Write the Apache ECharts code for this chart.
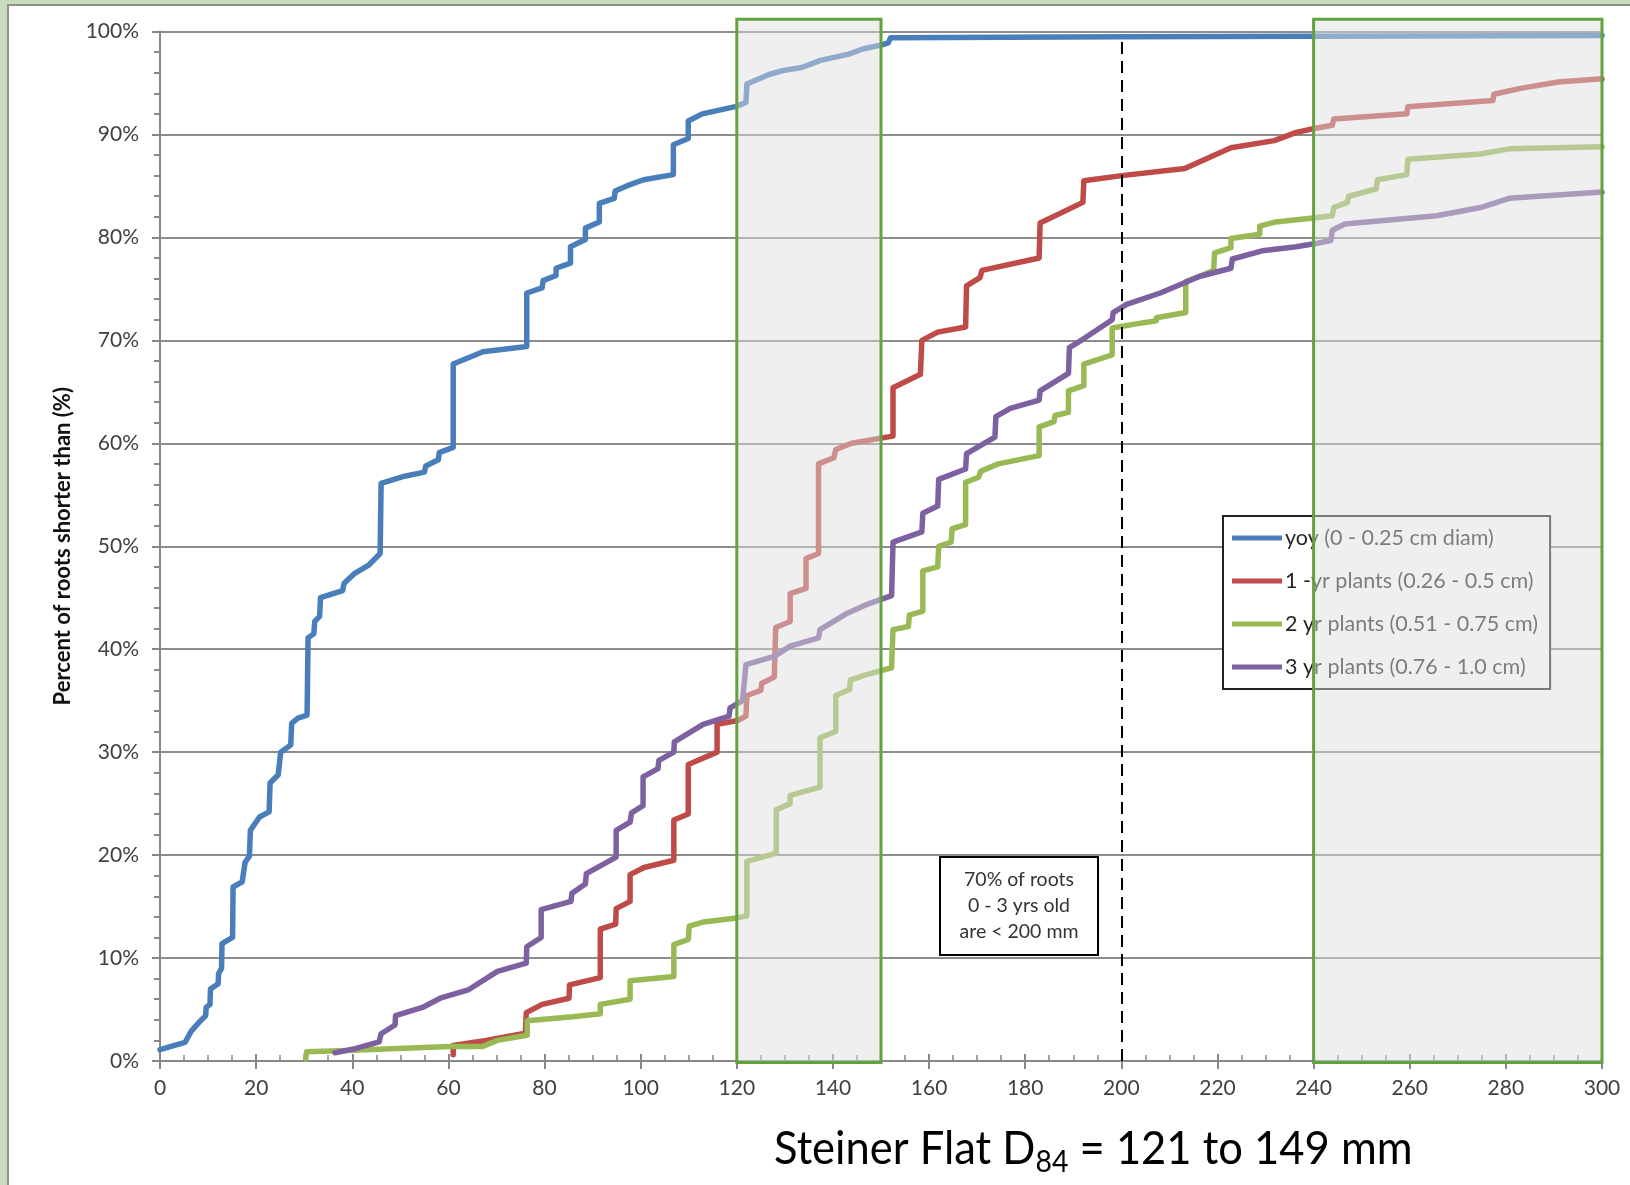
<!DOCTYPE html>
<html><head><meta charset="utf-8">
<script src="https://cdn.jsdelivr.net/npm/echarts@6.0.0/dist/echarts.min.js"></script>
<style>
html,body{margin:0;padding:0;width:1630px;height:1185px;overflow:hidden;background:#c6dcbc;}
#frame{position:absolute;left:7px;top:4px;right:0;bottom:0;background:#fff;border-left:2px solid #8f8f8f;border-top:2px solid #8f8f8f;}
#chart{position:absolute;left:0;top:0;width:1630px;height:1185px;}
</style></head><body><div id="frame"></div><div id="chart"></div>
<script>
// ---- data (x = root length mm, y = cumulative % of roots shorter than) ----
const seriesNames = ['yoy (0 - 0.25 cm diam)', '1 -yr plants (0.26 - 0.5 cm)', '2 yr plants (0.51 - 0.75 cm)', '3 yr plants (0.76 - 1.0 cm)'];
const yoy = [[0,1.1],[5.2,1.8],[6.5,2.9],[8.4,3.9],[9.5,4.4],[9.6,5.2],[10.4,5.5],[10.5,7.0],[12.1,7.5],[12.2,8.5],[12.8,9.0],[12.9,11.4],[15.1,12.0],[15.2,16.9],[17.1,17.4],[17.7,19.3],[18.6,19.9],[18.8,22.4],[20.7,23.7],[22.7,24.2],[22.9,27.0],[24.6,27.8],[25.1,30.0],[27.2,30.7],[27.4,32.8],[28.7,33.3],[30.6,33.6],[30.8,41.1],[32.0,41.5],[32.2,42.7],[33.2,43.2],[33.4,45.0],[38.0,45.7],[38.3,46.4],[40.6,47.4],[43.5,48.2],[45.8,49.3],[46.0,56.1],[50.9,56.8],[55.0,57.2],[55.3,57.8],[57.9,58.4],[58.1,59.1],[61.0,59.6],[61.0,67.7],[67.2,68.9],[76.3,69.4],[76.3,74.6],[79.5,75.1],[79.7,75.8],[82.4,76.3],[82.4,77.0],[85.4,77.5],[85.4,79.1],[88.5,79.8],[88.5,80.9],[91.4,81.5],[91.4,83.3],[94.5,83.8],[94.7,84.5],[97.1,85.0],[100.6,85.6],[106.8,86.1],[106.8,89.0],[109.9,89.6],[109.9,91.3],[112.8,92.0],[119.7,92.7],[121.9,93.1],[122.1,94.9],[126.6,95.8],[129.5,96.2],[133.5,96.5],[137.4,97.2],[143.3,97.8],[146.2,98.3],[150.2,98.7],[151.5,98.9],[152,99.4],[200,99.5],[300,99.6]];
const yr1 = [[61.0,0.6],[61.0,1.5],[67.8,2.0],[76.0,2.7],[76.2,4.7],[79.5,5.5],[85.1,6.1],[85.2,7.4],[91.6,8.1],[91.6,12.8],[94.8,13.3],[94.9,14.8],[97.8,15.5],[97.8,18.1],[100.7,18.8],[106.9,19.5],[106.9,23.4],[109.9,24.0],[109.9,28.8],[115.9,30.0],[115.9,32.7],[120.4,33.1],[121.9,33.5],[122.1,35.5],[125.0,36.0],[125.2,36.7],[127.8,37.3],[128.1,42.1],[131.1,42.7],[131.1,45.4],[134.4,45.9],[134.4,48.8],[137.0,49.3],[137.0,58.0],[140.2,58.6],[140.6,59.4],[143.9,60.0],[150.0,60.5],[152.5,60.7],[152.5,65.4],[158.2,66.7],[158.5,70.0],[161.8,70.8],[167.6,71.3],[167.8,75.3],[170.6,76.1],[171.0,76.8],[182.9,78.0],[183.1,81.4],[192.0,83.4],[192.2,85.5],[200.1,86.0],[213.2,86.7],[222.8,88.7],[231.8,89.4],[236.4,90.2],[240.4,90.6],[243.9,90.9],[244.2,91.5],[259.4,92.0],[259.6,92.7],[277.3,93.3],[277.5,93.9],[283.3,94.5],[290.9,95.1],[300,95.4]];
const yr2 = [[30.3,0.2],[30.5,0.9],[37.3,1.0],[60.4,1.4],[67.0,1.4],[70.2,2.0],[76.4,2.5],[76.4,3.9],[85.9,4.3],[91.6,4.6],[91.6,5.5],[97.8,6.0],[97.8,7.8],[106.9,8.2],[106.9,11.3],[109.9,11.8],[110.1,13.1],[113.0,13.5],[120.0,13.9],[122.1,14.1],[122.1,19.4],[128.2,20.2],[128.2,24.4],[131.1,25.0],[131.1,25.8],[137.3,26.6],[137.3,31.4],[140.6,32.0],[140.6,35.5],[143.5,36.1],[143.6,37.0],[146.8,37.5],[152.2,38.2],[152.5,41.9],[155.7,42.2],[155.9,43.3],[158.7,43.7],[158.7,47.6],[161.8,48.0],[162.0,50.0],[164.6,50.4],[164.8,51.7],[167.6,52.1],[167.6,56.2],[170.3,56.7],[170.8,57.3],[174.4,58.0],[182.9,58.8],[182.9,61.6],[186.0,62.1],[186.2,62.7],[189.0,63.0],[189.0,65.1],[192.2,65.6],[192.2,67.7],[198.1,68.6],[198.1,71.2],[203.1,71.6],[207.3,71.9],[207.3,72.2],[213.4,72.7],[213.4,75.7],[216.2,76.2],[219.2,76.8],[219.4,78.5],[222.8,79.0],[222.8,79.9],[228.8,80.3],[228.8,81.1],[232.1,81.5],[240.4,81.9],[243.9,82.1],[244.2,82.9],[247.0,83.4],[247.3,84.0],[253.0,84.7],[253.3,85.6],[259.4,86.1],[259.6,87.6],[274.7,88.1],[280.7,88.6],[300,88.8]];
const yr3 = [[36.4,0.8],[40.6,1.2],[45.6,1.85],[46.0,2.65],[48.9,3.5],[49.0,4.4],[54.6,5.2],[58.3,6.1],[64.1,6.9],[70.2,8.7],[76.2,9.5],[76.3,11.1],[79.3,12.0],[79.3,14.7],[85.5,15.5],[85.7,16.3],[88.5,17.2],[88.7,18.2],[94.9,19.8],[94.9,22.4],[97.8,23.2],[98.1,24.1],[100.5,24.8],[100.5,27.6],[103.6,28.4],[103.8,29.2],[106.9,30.0],[107.0,31.0],[113.0,32.7],[118.4,33.5],[118.6,34.3],[121.2,35.0],[121.9,38.5],[127.8,39.3],[131.1,40.3],[137.0,41.1],[137.3,41.9],[143.0,43.5],[146.8,44.3],[152.2,45.2],[152.5,50.4],[158.5,51.4],[158.7,53.2],[161.8,53.9],[162.0,56.5],[167.6,57.5],[167.8,59.0],[173.7,60.6],[173.9,62.6],[176.9,63.4],[182.9,64.2],[183.1,65.1],[189.0,66.8],[189.2,69.3],[192.0,70.1],[198.1,72.0],[198.3,72.7],[201.1,73.5],[208.1,74.6],[216.2,76.2],[222.8,77.0],[223.1,77.9],[229.3,78.7],[236.4,79.1],[240.4,79.4],[243.6,79.7],[243.9,80.7],[246.5,81.3],[265.6,82.1],[274.7,82.9],[280.7,83.8],[300,84.4]];
const shadedRanges = [[120, 150], [240, 300]];
const thresholdX = 200;
const noteLines = ['70% of roots', '0 - 3 yrs old', 'are < 200 mm'];
const xTitle = ['Steiner Flat D', '84', ' = 121 to 149 mm'];
const yTitle = 'Percent of roots shorter than (%)';

const colors = ['#4a7ebb', '#be4b48', '#98b954', '#7d60a0'];
const FONT = 'Lato';
const axisGray = '#888888';

const chart = echarts.init(document.getElementById('chart'), null, {renderer: 'canvas'});
const lineSeries = [yoy, yr1, yr2, yr3].map((d, i) => ({
  name: seriesNames[i], type: 'line', data: d, xAxisIndex: 0, yAxisIndex: 0,
  symbol: 'none', smooth: false, z: 2,
  lineStyle: {color: colors[i], width: 5.5, cap: 'round', join: 'round'},
  itemStyle: {color: colors[i]}
}));

const option = {
  animation: false,
  backgroundColor: 'transparent',
  grid: {left: 160, top: 31.5, width: 1442, height: 1029.5, containLabel: false, outerBoundsMode: 'none'},
  xAxis: [{
    type: 'value', min: 0, max: 300, interval: 20, position: 'bottom',
    axisLine: {show: true, onZero: false, lineStyle: {color: axisGray, width: 2}},
    axisTick: {show: true, inside: false, length: 8, lineStyle: {color: axisGray, width: 2}},
    axisLabel: {show: true, margin: 17, color: '#404040', fontFamily: FONT, fontSize: 21},
    splitLine: {show: false}
  }, {
    type: 'value', min: 0, max: 300, interval: 20, position: 'bottom',
    axisLine: {show: false, onZero: false},
    axisTick: {show: true, inside: true, length: 7, lineStyle: {color: axisGray, width: 2}},
    minorTick: {show: true, splitNumber: 4, length: 6, lineStyle: {color: axisGray, width: 1.5}},
    axisLabel: {show: false}, splitLine: {show: false}
  }],
  yAxis: [{
    type: 'value', min: 0, max: 100, interval: 10, position: 'left',
    name: yTitle, nameLocation: 'middle', nameRotate: 90, nameGap: 86,
    nameTextStyle: {fontFamily: FONT, fontWeight: 'bold', fontSize: 22, color: '#111'},
    axisLine: {show: true, onZero: false, lineStyle: {color: axisGray, width: 2}},
    axisTick: {show: true, inside: false, length: 8, lineStyle: {color: axisGray, width: 2}},
    axisLabel: {show: true, margin: 21, color: '#404040', fontFamily: FONT, fontSize: 21, formatter: '{value}%'},
    splitLine: {show: true, lineStyle: {color: '#8c8c8c', width: 2}}
  }, {
    type: 'value', min: 0, max: 100, interval: 10, position: 'left',
    axisLine: {show: false, onZero: false},
    axisTick: {show: false},
    minorTick: {show: true, splitNumber: 5, length: 6, lineStyle: {color: axisGray, width: 2}},
    axisLabel: {show: false}, splitLine: {show: false}
  }],
  legend: {
    data: seriesNames, orient: 'vertical', left: 1223, top: 516,
    padding: [11, 12, 11, 9], itemGap: 21, itemWidth: 50, itemHeight: 5, icon: 'rect',
    backgroundColor: '#fff', borderColor: '#222', borderWidth: 2, borderRadius: 0,
    selectedMode: false, z: 4,
    textStyle: {fontFamily: FONT, fontSize: 21.5, color: '#262626', lineHeight: 22, padding: [0, 0, 0, -2]}
  },
  series: lineSeries.concat([
    {
      name: 'threshold', type: 'line', data: [], xAxisIndex: 0, yAxisIndex: 0, z: 3,
      markLine: {
        silent: true, symbol: 'none', label: {show: false},
        lineStyle: {color: '#000', type: [12, 7], width: 2},
        data: [[{coord: [thresholdX, 0]}, {coord: [thresholdX, 99.4]}]]
      }
    },
    {
      name: 'boxes', type: 'custom', data: shadedRanges, xAxisIndex: 0, yAxisIndex: 0,
      z: 10, silent: true, clip: false,
      renderItem: function (params, api) {
        const p0 = api.coord([api.value(0), 101.2]);
        const p1 = api.coord([api.value(1), -0.15]);
        return {type: 'rect', shape: {x: p0[0], y: p0[1], width: p1[0] - p0[0], height: p1[1] - p0[1]},
          style: {fill: 'rgba(221,221,221,0.47)', stroke: '#63a33f', lineWidth: 3}};
      }
    }
  ]),
  graphic: [
    {
      type: 'group', left: 939, top: 856, z: 5,
      children: [
        {type: 'rect', shape: {x: 0, y: 0, width: 158, height: 98}, style: {fill: '#fff', stroke: '#000', lineWidth: 2}},
        {type: 'text', x: 79, y: 49, style: {text: noteLines.join('\n'), fontFamily: FONT, fontSize: 19.5, lineHeight: 26,
          fill: '#333', align: 'center', verticalAlign: 'middle'}}
      ]
    },
    {
      type: 'text', left: 774, top: 1126, z: 5, scaleX: 0.946,
      style: {
        text: '{a|' + xTitle[0] + '}{b|' + xTitle[1] + '}{a|' + xTitle[2] + '}',
        rich: {
          a: {fontFamily: FONT, fontSize: 46, lineHeight: 56, fill: '#000', verticalAlign: 'middle'},
          b: {fontFamily: FONT, fontSize: 30, lineHeight: 21, fill: '#000', verticalAlign: 'bottom'}
        }
      }
    }
  ]
};
chart.setOption(option);
</script></body></html>
